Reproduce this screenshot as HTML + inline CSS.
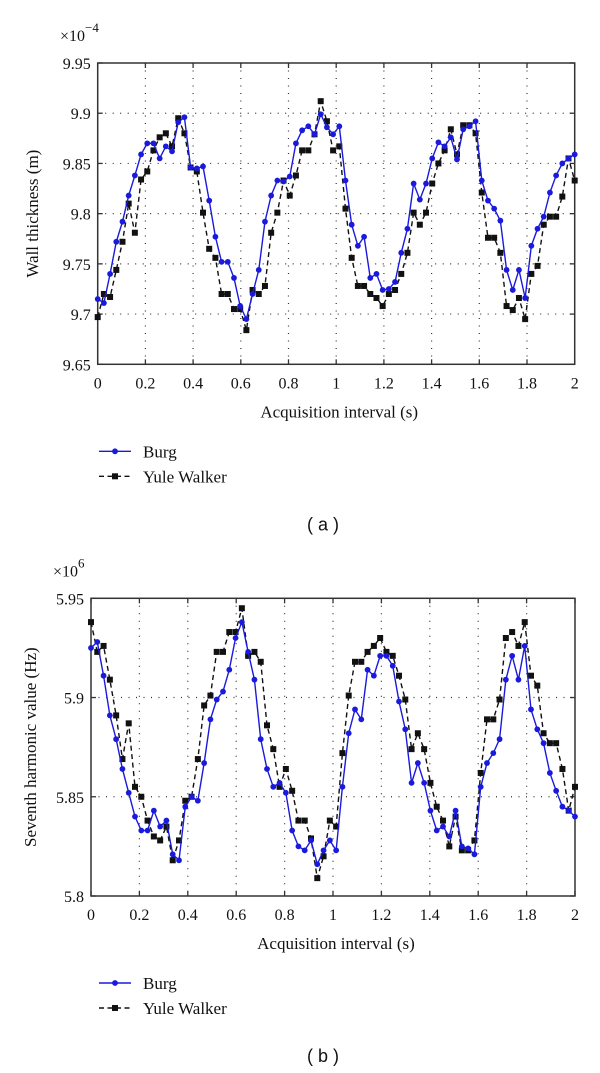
<!DOCTYPE html>
<html><head><meta charset="utf-8">
<style>
html,body{margin:0;padding:0;background:#fff;}
body{width:600px;height:1068px;overflow:hidden;}
svg text{font-family:"Liberation Serif",serif;fill:#111;}
</style></head>
<body>
<svg id="chart" width="600" height="1068" viewBox="0 0 600 1068" xmlns="http://www.w3.org/2000/svg"></svg>
<script>
// ---- Data (panel a: wall thickness x1e-4 m) ----
const aBurg = [9.715,9.711,9.740,9.772,9.792,9.818,9.838,9.859,9.870,9.870,9.855,9.867,9.862,9.891,9.896,9.846,9.845,9.847,9.813,9.777,9.752,9.752,9.736,9.708,9.695,9.720,9.744,9.792,9.818,9.833,9.832,9.837,9.870,9.883,9.887,9.879,9.899,9.886,9.879,9.887,
9.833,9.789,9.768,9.777,9.736,9.740,9.724,9.725,9.732,9.761,9.785,9.830,9.814,9.830,9.855,9.871,9.867,9.876,9.854,9.884,9.887,9.892,9.833,9.813,9.805,9.793,9.744,9.724,9.744,9.716,9.768,9.785,9.797,9.821,9.838,9.850,9.855,9.859];
const aYule = [9.697,9.720,9.717,9.744,9.772,9.810,9.781,9.834,9.842,9.863,9.876,9.880,9.867,9.895,9.880,9.846,9.842,9.801,9.765,9.756,9.720,9.720,9.705,9.705,9.684,9.724,9.720,9.728,9.781,9.801,9.833,9.818,9.838,9.863,9.863,9.879,9.912,9.892,9.863,9.867,
9.805,9.756,9.728,9.728,9.720,9.716,9.708,9.720,9.724,9.740,9.761,9.801,9.789,9.801,9.830,9.850,9.863,9.884,9.859,9.888,9.888,9.880,9.821,9.776,9.776,9.761,9.708,9.704,9.716,9.695,9.740,9.748,9.789,9.797,9.797,9.817,9.855,9.833];
// ---- Data (panel b: seventh harmonic x1e6 Hz) ----
const bBurg = [5.925,5.928,5.911,5.891,5.879,5.864,5.852,5.840,5.833,5.833,5.843,5.835,5.838,5.821,5.818,5.845,5.850,5.848,5.867,5.889,5.899,5.903,5.914,5.930,5.938,5.923,5.909,5.879,5.864,5.855,5.857,5.852,5.833,5.825,5.823,5.828,5.816,5.823,5.828,5.823,5.855,5.882,
5.894,5.889,5.914,5.911,5.921,5.921,5.916,5.898,5.884,5.857,5.867,5.857,5.843,5.833,5.835,5.830,5.843,5.825,5.824,5.821,5.855,5.867,5.872,5.879,5.909,5.921,5.909,5.926,5.894,5.884,5.877,5.862,5.853,5.845,5.843,5.840];
const bYule = [5.938,5.923,5.926,5.909,5.891,5.869,5.887,5.855,5.850,5.838,5.830,5.828,5.835,5.818,5.828,5.848,5.850,5.869,5.896,5.901,5.923,5.923,5.933,5.933,5.945,5.921,5.923,5.918,5.886,5.874,5.855,5.864,5.853,5.838,5.838,5.829,5.809,5.820,5.838,5.835,5.872,5.901,
5.918,5.918,5.923,5.926,5.930,5.923,5.921,5.911,5.899,5.874,5.882,5.874,5.857,5.845,5.838,5.825,5.840,5.823,5.823,5.828,5.862,5.889,5.889,5.899,5.930,5.933,5.926,5.938,5.911,5.906,5.882,5.877,5.877,5.864,5.843,5.855];
const xTicks = ["0","0.2","0.4","0.6","0.8","1","1.2","1.4","1.6","1.8","2"];
const aYTicks = ["9.65","9.7","9.75","9.8","9.85","9.9","9.95"];
const bYTicks = ["5.8","5.85","5.9","5.95"];

const NS="http://www.w3.org/2000/svg";
const svg=document.getElementById('chart');
function mk(tag,attrs,parent){const e=document.createElementNS(NS,tag);for(const k in attrs)e.setAttribute(k,attrs[k]);(parent||svg).appendChild(e);return e;}

function panel(cfg){
  const g=mk('g',{});
  
  
  const {L,R,T,B,ymin,ymax}=cfg;
  const sx=v=>L+(v/2)*(R-L);
  const sy=v=>B-(v-ymin)/(ymax-ymin)*(B-T);
  // grid
  xTicks.forEach((t,i)=>{const v=parseFloat(t);const x=sx(v);
    if(i>0&&i<xTicks.length-1){const gl=mk('line',{x1:x,x2:x,y1:T,y2:B,stroke:'#333','stroke-width':1.2,'stroke-dasharray':'1 6.5'},g);
      }
    mk('line',{x1:x,x2:x,y1:B,y2:B-5,stroke:'#333','stroke-width':1.3},g);
    mk('line',{x1:x,x2:x,y1:T,y2:T+5,stroke:'#333','stroke-width':1.3},g);
    const tx=mk('text',{x:x,y:B+24,'text-anchor':'middle','font-size':16},g);tx.textContent=t;
    
  });
  cfg.yTicks.forEach((t,i)=>{const v=parseFloat(t);const y=sy(v);
    if(i>0&&i<cfg.yTicks.length-1){const gl=mk('line',{x1:L,x2:R,y1:y,y2:y,stroke:'#333','stroke-width':1.2,'stroke-dasharray':'1 6.5'},g);
      }
    mk('line',{x1:L,x2:L+5,y1:y,y2:y,stroke:'#333','stroke-width':1.3},g);
    mk('line',{x1:R,x2:R-5,y1:y,y2:y,stroke:'#333','stroke-width':1.3},g);
    const tx=mk('text',{x:L-7,y:y+6,'text-anchor':'end','font-size':16},g);tx.textContent=t;
    
  });
  const fr=mk('rect',{x:L,y:T,width:R-L,height:B-T,fill:'none',stroke:'#333','stroke-width':1.5},g);
  
  // exponent
  const ex=mk('text',{x:cfg.expX,y:T-22,'font-size':16},g);
  ex.innerHTML='×10<tspan dy="-9" font-size="13">'+cfg.exp+'</tspan>';
  
  // series
  function series(data,color,dash,marker,nm){
    const n=data.length;
    const pts=data.map((v,i)=>[sx(i*2/(n-1)),sy(v)]);
    const pl=mk('polyline',{points:pts.map(p=>p.join(',')).join(' '),fill:'none',stroke:color,'stroke-width':1.4,'stroke-dasharray':dash},g);
    
    pts.forEach(p=>{let m;
      if(marker==='c')m=mk('circle',{cx:p[0],cy:p[1],r:2.9,fill:color},g);
      else m=mk('rect',{x:p[0]-3,y:p[1]-3,width:6,height:6,fill:color},g);
      
    });
  }
  series(cfg.yule,'#111','5 3.5','s','yule-walker');
  series(cfg.burg,'#1a1adc','none','c','burg');
  // axis labels
  const xl=mk('text',{x:(L+R)/2+3,y:B+53,'text-anchor':'middle','font-size':17},g);xl.textContent='Acquisition interval (s)';
  
  const cy=(T+B)/2;
  const yl=mk('text',{x:cfg.ylX,y:cy,'text-anchor':'middle','font-size':17,transform:`rotate(-90 ${cfg.ylX} ${cy})`},g);yl.textContent=cfg.ylabel;
  
  // legend
  const ly=B+87;
  const lg=mk('g',{},g);
  mk('line',{x1:99,x2:131,y1:ly,y2:ly,stroke:'#1a1adc','stroke-width':1.4},lg);
  mk('circle',{cx:115,cy:ly,r:2.9,fill:'#1a1adc'},lg);
  const t1=mk('text',{x:143,y:ly+6,'font-size':17},lg);t1.textContent='Burg';
  
  mk('line',{x1:99,x2:131,y1:ly+25,y2:ly+25,stroke:'#111','stroke-width':1.4,'stroke-dasharray':'5 3.5'},lg);
  mk('rect',{x:112,y:ly+22,width:6,height:6,fill:'#111'},lg);
  const t2=mk('text',{x:143,y:ly+31,'font-size':17},lg);t2.textContent='Yule Walker';
  
  const cap=mk('text',{x:323,y:B+166,'text-anchor':'middle','font-size':18},g);cap.textContent='( '+cfg.cap+' )';
  cap.setAttribute('style','font-family:"Liberation Sans",sans-serif');
  
}
panel({name:'panel-a',L:97.7,R:574.7,T:63,B:364.3,ymin:9.65,ymax:9.95,yTicks:aYTicks,burg:aBurg,yule:aYule,exp:'−4',expX:60,ylX:38,ylabel:'Wall thickness (m)',cap:'a'});
panel({name:'panel-b',L:91,R:575,T:598.3,B:896,ymin:5.8,ymax:5.95,yTicks:bYTicks,burg:bBurg,yule:bYule,exp:'6',expX:53,ylX:36,ylabel:'Seventh harmonic value (Hz)',cap:'b'});
</script>
</body></html>
